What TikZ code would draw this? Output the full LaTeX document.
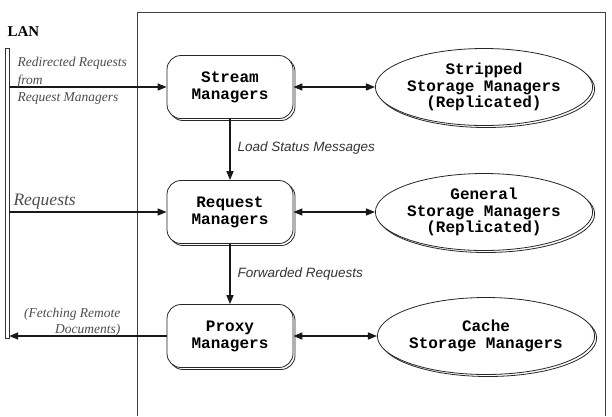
\documentclass[tikz,border=0pt]{standalone}
\usepackage{fontspec}
\setmainfont{Liberation Serif}
\setsansfont{Liberation Sans}
\setmonofont{Liberation Mono}
\usetikzlibrary{arrows.meta,shapes.geometric,shadows}

\begin{document}
\begin{tikzpicture}[x=1pt, y=-1pt,
  mgr/.style={rectangle, rounded corners=14pt, draw=black!85, thick, fill=white,
    minimum width=126pt, minimum height=63pt, align=center, inner sep=2pt,
    font=\ttfamily\bfseries\fontsize{16}{17}\selectfont,
    copy shadow={shadow xshift=2pt, shadow yshift=-2pt}},
  store/.style={ellipse, draw=black!85, thick, fill=white, inner sep=0pt,
    minimum width=192pt, minimum height=77pt, align=center,
    font=\ttfamily\bfseries\fontsize{16}{16.5}\selectfont,
    copy shadow={shadow xshift=2pt, shadow yshift=-2pt}},
  lanbar/.style={rectangle, draw=black!80, minimum width=4pt, minimum height=290pt, inner sep=0pt},
  link/.style={draw=black!90, line width=1.4pt, -{Triangle[length=9pt, width=7pt]}},
  both/.style={link, {Triangle[length=9pt, width=7pt]}-{Triangle[length=9pt, width=7pt]}},
  msg/.style={anchor=west, font=\sffamily\itshape\fontsize{13.5}{15}\selectfont, text=black!80},
  lanmsg/.style={anchor=west, font=\itshape\fontsize{13.5}{14}\selectfont, text=black!70}
]
  \useasboundingbox (0,0) rectangle (612,416);

  % server frame (open at the bottom)
  \draw[black!75] (137,416) -- (137,12) -- (605,12) -- (605,416);

  % LAN
  \node[anchor=west, font=\bfseries\fontsize{15}{16}\selectfont] (lanname) at (4,32) {LAN};
  \node[lanbar] (lan) at (7,193) {};

  % managers
  \node[mgr] (stream) at (230,87) {Stream\\Managers};
  \node[mgr] (request) at (230,212) {Request\\Managers};
  \node[mgr] (proxy) at (230,336) {Proxy\\Managers};

  % storage managers
  \node[store] (stripped) at (484,87) {Stripped\\Storage Managers\\(Replicated)};
  \node[store] (general) at (484,212) {General\\Storage Managers\\(Replicated)};
  \node[store] (cache) at (486,336) {Cache\\Storage Managers};

  \foreach \m/\s in {stream/stripped, request/general, proxy/cache}
    \draw[both] (\m) -- (\s);

  \draw[link] (stream) -- (request);
  \draw[link] (request) -- (proxy);
  \draw[link] (lan.east |- stream) -- (stream);
  \draw[link] (lan.east |- request) -- (request);
  \draw[link] (proxy) -- (proxy -| lan.east);

  % labels
  \node[msg] (loadmsg) at (234,148) {Load Status Messages};
  \node[msg] (fwdmsg) at (234,274) {Forwarded Requests};
  \node[lanmsg] (redir1) at (14,63) {Redirected Requests};
  \node[lanmsg] (redir2) at (14,81) {from};
  \node[lanmsg] (redir3) at (14,99) {Request Managers};
  \node[lanmsg, font=\itshape\fontsize{17.5}{18}\selectfont] (reqmsg) at (10,202) {Requests};
  \node[lanmsg, anchor=east] (fetch1) at (124,314) {(Fetching Remote};
  \node[lanmsg, anchor=east] (fetch2) at (124,330) {Documents)};
\end{tikzpicture}
\end{document}
